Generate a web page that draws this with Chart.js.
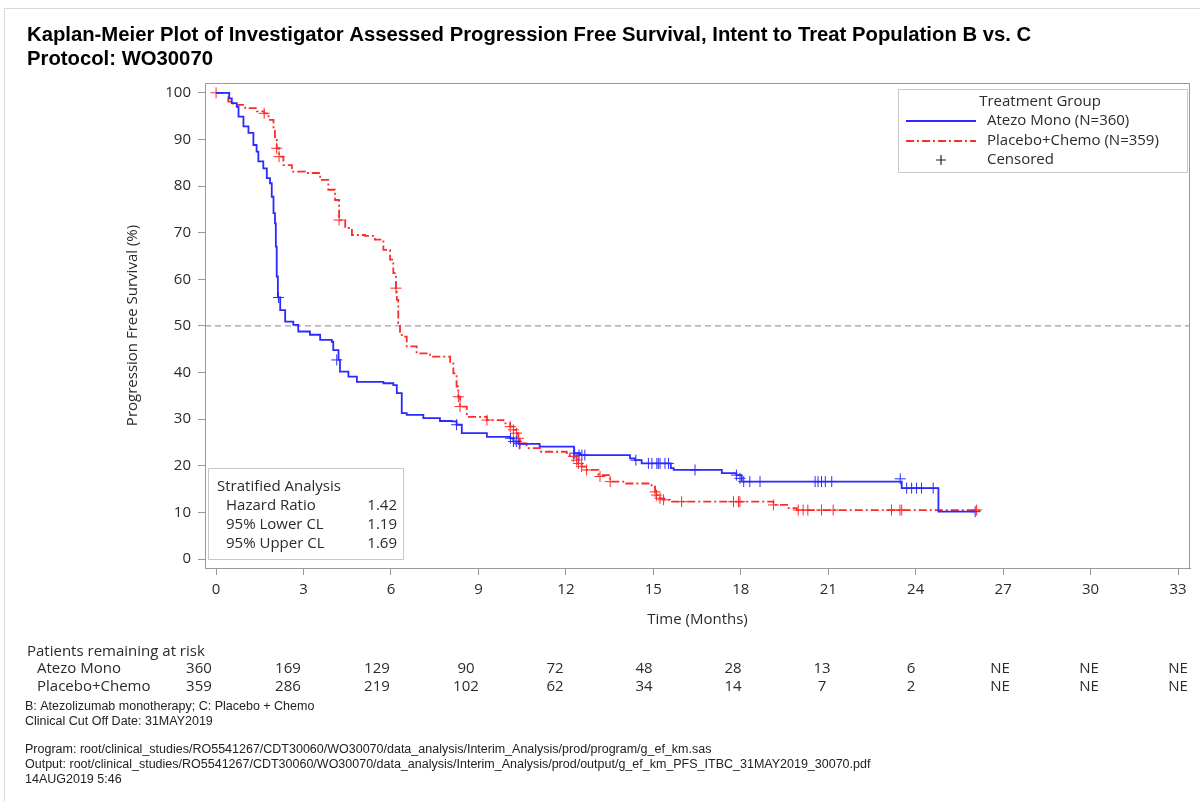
<!DOCTYPE html>
<html>
<head>
<meta charset="utf-8">
<script src="https://cdn.jsdelivr.net/npm/chart.js@4.4.1/dist/chart.umd.min.js"></script>
<style>
  body { margin: 0; background: #fff; }
  canvas { display: block; }
</style>
</head>
<body>
<canvas id="km" width="1200" height="801"></canvas>
<script>
// Values (months, % progression free)
const xTicks = [0, 3, 6, 9, 12, 15, 18, 21, 24, 27, 30, 33];
const yTicks = [0, 10, 20, 30, 40, 50, 60, 70, 80, 90, 100];

const atezoTime = [0, 0.38, 0.45, 0.54, 0.71, 0.77, 0.94, 1.11, 1.28, 1.39, 1.45, 1.62, 1.74, 1.85, 1.91, 1.97, 2.02, 2.05, 2.08, 2.12,
  2.2, 2.37, 2.65, 2.82, 3.22, 3.57, 3.97, 4.02, 4.2, 4.25, 4.54, 4.83, 5.74, 6.08, 6.2, 6.37, 6.54, 7.11, 7.68, 8.09,
  8.25, 8.43, 9.29, 10.09, 10.2, 10.4, 11.1, 12.28, 12.5, 14.2, 14.37, 14.6, 15.6, 15.7, 17.35, 17.85, 18.03, 23.52, 24.78, 26.04];
const atezoSurv = [100, 100, 98.8, 97.8, 97, 94.9, 92.8, 91.4, 88.8, 87.4, 85.3, 83.8, 81.7, 80.6, 77.7, 74.2, 72, 67, 60.6, 56.1,
  53.4, 50.9, 50.2, 48.8, 48.1, 47, 46.6, 44.8, 42.7, 40.2, 39.1, 38, 37.7, 37.3, 35.6, 31.3, 30.9, 30.2, 29.6, 29.5,
  28.8, 27, 26.2, 25.9, 25.2, 24.7, 24.1, 22.7, 22.3, 21.6, 21.2, 20.5, 19.5, 19.1, 18.4, 18, 16.6, 15.2, 10.15, 10.15];

const atezoCensTime = [2.14, 4.14, 8.25, 10.1, 10.2, 10.3, 10.4, 12.3, 12.45, 12.55, 12.65, 14.4, 14.83, 14.95, 15.12, 15.17,
  15.23, 15.4, 15.52, 16.43, 17.85, 17.97, 18.1, 18.31, 18.66, 20.55, 20.65, 20.77, 20.9, 21.12, 23.47, 23.69, 23.86, 24.03,
  24.2, 24.6, 26.04];
const atezoCensSurv = [56.1, 42.7, 28.8, 25.9, 25.2, 25.2, 24.7, 22.7, 22.3, 22.3, 22.3, 21.2, 20.5, 20.5, 20.5, 20.5,
  20.5, 20.5, 20.5, 19.1, 18, 17.3, 16.6, 16.6, 16.6, 16.6, 16.6, 16.6, 16.6, 16.6, 17.2, 15.2, 15.2, 15.2,
  15.2, 15.2, 10.15];

const placeboTime = [0, 0.42, 0.59, 1.0, 1.4, 1.65, 1.8, 1.97, 2.02, 2.08, 2.16, 2.31, 2.6, 3.05, 3.57, 3.85, 4.08, 4.22, 4.43, 4.66,
  5.11, 5.45, 5.74, 5.97, 6.08, 6.17, 6.2, 6.25, 6.31, 6.37, 6.54, 6.88, 7.34, 8.03, 8.14, 8.25, 8.31, 8.37, 8.6, 9.29,
  9.86, 10.09, 10.2, 10.31, 10.37, 10.43, 10.65, 11.11, 12.03, 12.26, 12.37, 12.43, 12.54, 12.71, 13.12, 13.52, 13.97, 14.94, 15.06, 15.11,
  15.23, 15.35, 15.57, 19.12, 19.64, 19.92, 26.25];
const placeboSurv = [100, 98.1, 97.4, 96.7, 96, 95.6, 94.2, 92.1, 89.9, 88.1, 86.3, 84.5, 83.1, 82.8, 81.3, 79.2, 77, 72.7, 71, 69.5,
  69.3, 68.5, 66.3, 64.2, 61.3, 58.1, 55.6, 50.6, 48.4, 47.7, 45.6, 44.1, 43.4, 42.3, 39.8, 37, 34.8, 32.7, 30.5, 29.8,
  29.1, 28.4, 27.7, 27, 25.9, 24.8, 23.8, 23, 22.3, 22, 21.2, 20.5, 19.8, 19.1, 18, 16.6, 16.2, 15.5, 14.4, 13.7,
  13.0, 12.7, 12.3, 11.6, 10.9, 10.5, 10.5];

const placeboCensTime = [0, 1.65, 2.08, 2.16, 4.22, 6.17, 8.31, 8.37, 9.29, 10.09, 10.2, 10.31, 10.37, 10.43, 12.26, 12.37, 12.43,
  12.54, 12.71, 13.17, 13.52, 15.06, 15.11, 15.23, 15.35, 15.97, 17.75, 17.92, 17.97, 19.12, 19.97, 20.14, 20.3, 20.77, 21.17,
  23.17, 23.46, 23.52, 26.09];
const placeboCensSurv = [100, 95.6, 88.1, 86.3, 72.7, 58.1, 34.8, 32.7, 29.8, 28.4, 27.7, 27, 25.9, 24.8, 22, 21.2, 20.5,
  19.8, 19.1, 17.7, 16.6, 14.4, 13.7, 13.0, 12.7, 12.3, 12.3, 12.3, 12.3, 11.6, 10.5, 10.5, 10.5, 10.5, 10.5,
  10.5, 10.5, 10.5, 10.5];

const medianRef = 50;

const groupNames = ['Atezo Mono', 'Placebo+Chemo'];
const legendLabels = ['Atezo Mono (N=360)', 'Placebo+Chemo (N=359)', 'Censored'];
const atRiskAtezo = ['360', '169', '129', '90', '72', '48', '28', '13', '6', 'NE', 'NE', 'NE'];
const atRiskPlacebo = ['359', '286', '219', '102', '62', '34', '14', '7', '2', 'NE', 'NE', 'NE'];

const statLabels = ['Hazard Ratio', '95% Lower CL', '95% Upper CL'];
const statValues = ['1.42', '1.19', '1.69'];

const titleLines = [
  'Kaplan-Meier Plot of Investigator Assessed Progression Free Survival, Intent to Treat Population B vs. C',
  'Protocol: WO30070'
];
const notesTop = [
  'B: Atezolizumab monotherapy; C: Placebo + Chemo',
  'Clinical Cut Off Date: 31MAY2019'
];
const notesBottom = [
  'Program: root/clinical_studies/RO5541267/CDT30060/WO30070/data_analysis/Interim_Analysis/prod/program/g_ef_km.sas',
  'Output: root/clinical_studies/RO5541267/CDT30060/WO30070/data_analysis/Interim_Analysis/prod/output/g_ef_km_PFS_ITBC_31MAY2019_30070.pdf',
  '14AUG2019 5:46'
];

const BLUE = '#2a2aff';
const RED = '#ff2a2a';
const AXIS = '#9a9a9a';
const TXT = '#2b2b2b';
const SANS = '"Open Sans", sans-serif';
const NOTE = '"Liberation Sans", Arial, sans-serif';
const RED_DASH = [8, 3, 2, 3];

const toXY = (ts, ss) => ts.map((t, i) => ({ x: t, y: ss[i] }));

// Boxes, titles, at-risk table and footnotes
const decorations = {
  id: 'decorations',
  beforeDatasetsDraw(chart) {
    const { ctx, chartArea: a, scales } = chart;
    const y50 = scales.y.getPixelForValue(medianRef);
    ctx.save();
    ctx.strokeStyle = '#a0a0a0';
    ctx.lineWidth = 1.2;
    ctx.setLineDash([6, 4]);
    ctx.beginPath();
    ctx.moveTo(a.left, y50);
    ctx.lineTo(a.right, y50);
    ctx.stroke();
    ctx.restore();
  },
  afterDraw(chart) {
    const { ctx, chartArea: a, scales } = chart;
    const xs = scales.x;
    ctx.save();

    // outer figure frame
    ctx.strokeStyle = '#d8d8d8';
    ctx.lineWidth = 1;
    ctx.strokeRect(4.5, 8.5, 1200, 800);

    // plot frame
    ctx.strokeStyle = AXIS;
    ctx.strokeRect(a.left + 0.5, a.top + 0.5, a.right - a.left - 1, a.bottom - a.top);

    // title
    ctx.fillStyle = '#000';
    ctx.textBaseline = 'middle';
    ctx.textAlign = 'left';
    ctx.font = 'bold 20.3px "Liberation Sans", Arial, sans-serif';
    ctx.fillText(titleLines[0], 27, 35);
    ctx.fillText(titleLines[1], 27, 59);

    // legend box
    const lx = a.right - 292, ly = a.top + 6, lw = 289, lh = 83;
    ctx.fillStyle = '#fff';
    ctx.fillRect(lx, ly, lw, lh);
    ctx.strokeStyle = '#c8c8c8';
    ctx.strokeRect(lx + 0.5, ly + 0.5, lw, lh);
    ctx.fillStyle = TXT;
    ctx.font = '15px ' + SANS;
    ctx.textAlign = 'center';
    ctx.fillText('Treatment Group', lx + 142, ly + 13);
    ctx.textAlign = 'left';
    const rowY = [ly + 32, ly + 52, ly + 71];
    ctx.lineWidth = 2;
    ctx.strokeStyle = BLUE;
    ctx.beginPath(); ctx.moveTo(lx + 8, rowY[0]); ctx.lineTo(lx + 78, rowY[0]); ctx.stroke();
    ctx.strokeStyle = RED;
    ctx.setLineDash(RED_DASH);
    ctx.beginPath(); ctx.moveTo(lx + 8, rowY[1]); ctx.lineTo(lx + 78, rowY[1]); ctx.stroke();
    ctx.setLineDash([]);
    ctx.strokeStyle = '#222';
    ctx.lineWidth = 1.2;
    ctx.beginPath();
    ctx.moveTo(lx + 38, rowY[2]); ctx.lineTo(lx + 48, rowY[2]);
    ctx.moveTo(lx + 43, rowY[2] - 5); ctx.lineTo(lx + 43, rowY[2] + 5);
    ctx.stroke();
    legendLabels.forEach((t, i) => ctx.fillText(t, lx + 89, rowY[i]));

    // stratified analysis box
    const sx = a.left + 3, sw = 195, sh = 91, sy = a.bottom - 9 - sh;
    ctx.fillStyle = '#fff';
    ctx.fillRect(sx, sy, sw, sh);
    ctx.strokeStyle = '#c8c8c8';
    ctx.lineWidth = 1;
    ctx.strokeRect(sx + 0.5, sy + 0.5, sw, sh);
    ctx.fillStyle = TXT;
    ctx.fillText('Stratified Analysis', sx + 9, sy + 19);
    statLabels.forEach((t, i) => {
      const yy = sy + 38 + i * 19;
      ctx.textAlign = 'left';
      ctx.fillText(t, sx + 18, yy);
      ctx.textAlign = 'right';
      ctx.fillText(statValues[i], sx + sw - 6, yy);
    });

    // patients at risk
    ctx.textAlign = 'left';
    ctx.fillText('Patients remaining at risk', 27, 652);
    ctx.fillText(groupNames[0], 37, 669);
    ctx.fillText(groupNames[1], 37, 687);
    ctx.textAlign = 'center';
    xTicks.forEach((t, i) => {
      const px = xs.getPixelForValue(t) - (33 - t) * 0.52;
      ctx.fillText(atRiskAtezo[i], px, 669);
      ctx.fillText(atRiskPlacebo[i], px, 687);
    });

    // footnotes
    ctx.textAlign = 'left';
    ctx.fillStyle = '#222';
    ctx.font = '12.5px ' + NOTE;
    notesTop.forEach((t, i) => ctx.fillText(t, 25, 707 + i * 15));
    notesBottom.forEach((t, i) => ctx.fillText(t, 25, 750 + i * 15));
    ctx.restore();
  }
};

new Chart(document.getElementById('km'), {
  type: 'scatter',
  data: {
    datasets: [
      {
        label: legendLabels[0],
        data: toXY(atezoTime, atezoSurv),
        showLine: true,
        stepped: 'before',
        borderColor: BLUE,
        borderWidth: 1.8,
        pointRadius: 0
      },
      {
        label: legendLabels[1],
        data: toXY(placeboTime, placeboSurv),
        showLine: true,
        stepped: 'before',
        borderColor: RED,
        borderWidth: 1.8,
        borderDash: RED_DASH,
        pointRadius: 0
      },
      {
        label: 'Censored A',
        data: toXY(atezoCensTime, atezoCensSurv),
        pointStyle: 'cross',
        pointRadius: 5.5,
        borderColor: BLUE,
        borderWidth: 1,
        backgroundColor: BLUE
      },
      {
        label: 'Censored P',
        data: toXY(placeboCensTime, placeboCensSurv),
        pointStyle: 'cross',
        pointRadius: 5.5,
        borderColor: RED,
        borderWidth: 1,
        backgroundColor: RED
      }
    ]
  },
  options: {
    responsive: false,
    animation: false,
    devicePixelRatio: 1,
    layout: {
      padding: { left: 120, top: 83, right: 10, bottom: 168 }
    },
    plugins: {
      legend: { display: false },
      tooltip: { enabled: false }
    },
    scales: {
      x: {
        type: 'linear',
        min: -0.38,
        max: 33.41,
        afterBuildTicks: (s) => { s.ticks = xTicks.map(v => ({ value: v })); },
        afterFit: (s) => { s.height = 65; },
        ticks: {
          color: TXT,
          font: { family: SANS, size: 15 },
          padding: 6,
          maxRotation: 0
        },
        grid: { drawOnChartArea: false, drawTicks: true, tickLength: 7, color: AXIS },
        border: { color: AXIS },
        title: {
          display: true,
          text: 'Time (Months)',
          color: TXT,
          font: { family: SANS, size: 15 },
          padding: { top: 0, bottom: 4 }
        }
      },
      y: {
        min: -1.93,
        max: 102.1,
        afterBuildTicks: (s) => { s.ticks = yTicks.map(v => ({ value: v })); },
        afterFit: (s) => { s.width = 85; },
        ticks: {
          color: TXT,
          font: { family: SANS, size: 15 },
          padding: 7
        },
        grid: { drawOnChartArea: false, drawTicks: true, tickLength: 7, color: AXIS },
        border: { color: AXIS },
        title: {
          display: true,
          text: 'Progression Free Survival (%)',
          color: TXT,
          font: { family: SANS, size: 15 },
          padding: { top: 4, bottom: 0 }
        }
      }
    }
  },
  plugins: [decorations]
});
</script>
</body>
</html>
